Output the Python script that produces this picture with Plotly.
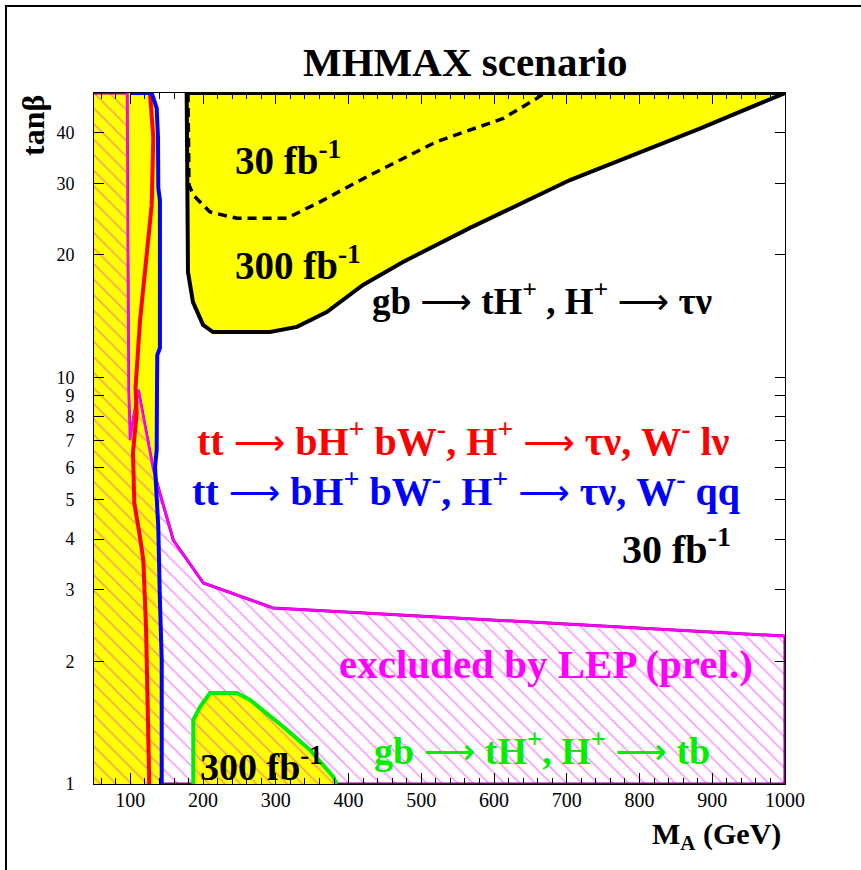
import math
import plotly.graph_objects as go

# ---------------- data (M_A in GeV, tan(beta)) ----------------
# LEP excluded region boundary (magenta curve)
lep_m = [95.4, 97.4, 99.5, 110.9, 131.5, 159.0, 200.3, 296.1, 1000]
lep_t = [50, 9.41, 7.01, 9.31, 5.92, 3.98, 3.12, 2.71, 2.31]

# tt -> bH+ bW-, W- -> qq (blue, 30 fb-1)
blue_m = [99.5, 129.3, 136.2, 138.0, 138.4, 140.6, 140.6, 137.0, 136.6, 136.2, 133.9, 138.4, 140.6, 143.1, 143.1]
blue_t = [50, 50, 45.9, 38.8, 29.2, 27.3, 11.8, 11.34, 9.41, 6.62, 6.02, 4.28, 2.835, 2.018, 1]

# tt -> bH+ bW-, W- -> l nu (red, 30 fb-1)
red_m = [127.0, 131.5, 129.3, 122.5, 113.2, 107.1, 108.7, 103.6, 105.4, 113.2, 117.8, 121.5, 123.6, 126.0]
red_t = [50, 38.8, 26.5, 19.98, 13.75, 9.41, 8.17, 6.51, 4.91, 4.05, 3.55, 2.43, 1.61, 1]

# yellow region of the tt channels that lies inside the LEP exclusion
overlap_m = [50, 50, 95.4, 97.4, 99.5, 110.9, 131.5, 134.7, 138.4, 140.6, 143.1, 143.1]
overlap_t = [1, 50, 50, 9.41, 7.01, 9.31, 5.92, 5.65, 4.28, 2.835, 2.018, 1]

# gb -> tH+, H+ -> tau nu, 300 fb-1 (solid black)
c300_m = [177.4, 179.2, 186.1, 199.9, 213.6, 292, 329, 370, 419.8, 474.8, 566.9, 704.4, 882, 1000]
c300_t = [50, 18.15, 15.3, 13.45, 12.92, 12.92, 13.3, 14.47, 16.87, 19.21, 23.3, 30.55, 40.8, 50]

# gb -> tH+, H+ -> tau nu, 30 fb-1 (dashed black)
c30_m = [179.2, 180.6, 186.5, 209.5, 246.2, 315, 360.7, 429.4, 521.1, 612.7, 658.6, 670, 179.2]
c30_t = [50, 29.7, 28.06, 25.5, 24.6, 24.6, 27.0, 31.4, 37.96, 43.3, 48.5, 50, 50]

# gb -> tH+, H+ -> tb, 300 fb-1 (green)
green_m = [186.5, 186.5, 195.7, 209.5, 246.2, 264.5, 310.2, 347.0, 379.0, 383.7]
green_t = [1, 1.437, 1.546, 1.674, 1.674, 1.609, 1.383, 1.212, 1.042, 1]

# axes
m_min, m_max = 50, 1000
t_min, t_max = 1, 50
ytick_vals = [1, 2, 3, 4, 5, 6, 7, 8, 9, 10, 20, 30, 40]
ytick_text = ["1", "2", "3", "4", "5", "6", "7", "8", "9", "10", "20", "30", "40"]

# ---------------- styles ----------------
YEL = "#ffff00"
MAG = "#ff00ff"
PURP = "#800080"
HATCH_W = dict(shape="\\", fgcolor=MAG, fgopacity=0.45, bgcolor="rgba(0,0,0,0)", size=11, solidity=0.14)
HATCH_Y = dict(shape="\\", fgcolor="#f59a66", fgopacity=1.0, bgcolor=YEL, size=11, solidity=0.14)
SERIF = "Liberation Serif"
ARROW = "<span style=\"font-family:'DejaVu Sans';font-weight:normal;font-size:36px\">⟶</span>"

fig = go.Figure()

def poly(x, y, **kw):
    fig.add_trace(go.Scatter(x=x, y=y, mode="lines", fill="toself", hoverinfo="skip",
                             showlegend=False, **kw))

def line(x, y, color, width, dash="solid"):
    fig.add_trace(go.Scatter(x=x, y=y, mode="lines", hoverinfo="skip", showlegend=False,
                             line=dict(color=color, width=width, dash=dash)))

# yellow region of tt channels
poly([m_min, m_min] + blue_m, [t_min, t_max] + blue_t, fillcolor=YEL, line=dict(width=0))
# top yellow region gb -> tH+ (tau nu)
poly(c300_m, c300_t, fillcolor=YEL, line=dict(width=0))
# LEP excluded hatched region
poly([m_min] + lep_m + [m_max, m_min], [t_max] + lep_t + [t_min, t_min],
     fillcolor="rgba(0,0,0,0)", fillpattern=HATCH_W, line=dict(color=PURP, width=3))
# overlap of yellow and LEP hatch
poly(overlap_m, overlap_t, fillcolor=YEL, fillpattern=HATCH_Y, line=dict(width=0))
# bottom green region (inside LEP hatch)
poly(green_m, green_t, fillcolor=YEL, fillpattern=HATCH_Y, line=dict(width=0))

# contour lines
line([m_min, lep_m[0]], [t_max, t_max], PURP, 3)
line(lep_m, lep_t, MAG, 2.5)
line(green_m, green_t, "#00ee00", 4)
line(red_m, red_t, "#ff0000", 4)
line(blue_m, blue_t, "#0000ff", 4)
line(c300_m + [c300_m[0]], c300_t + [c300_t[0]], "black", 4)
line(c30_m, c30_t, "black", 3.5, dash="9px,6px")

# ---------------- text ----------------
def ann(text, xp, yp, color="black", size=38, xanchor="left", **kw):
    fig.add_annotation(text=text, x=xp, y=yp, xref="paper", yref="paper",
                       xanchor=xanchor, yanchor="middle", showarrow=False,
                       font=dict(family=SERIF, size=size, color=color), **kw)

ann("<b>MHMAX scenario</b>", 0.537, 1.0449, size=41, xanchor="center")
ann("<b>tanβ</b>", -0.0883, 0.9537, size=32, xanchor="center", textangle=-90)
ann("<b>M<sub>A</sub> (GeV)</b>", 0.9971, -0.075, size=30, xanchor="right")

ann("<b>30 fb<sup>-1</sup></b>", 0.2012, 0.906, size=39)
ann("<b>300 fb<sup>-1</sup></b>", 0.2012, 0.754, size=39)
ann(f"<b>gb {ARROW} tH<sup>+</sup> , H<sup>+</sup> {ARROW} τν</b>", 0.3994, 0.703, size=37)
ann(f"<b>tt {ARROW} bH<sup>+</sup> bW<sup>-</sup>, H<sup>+</sup> {ARROW} τν, W<sup>-</sup> lν</b>", 0.1462, 0.500,
    color="#ff0000", size=40)
ann(f"<b>tt {ARROW} bH<sup>+</sup> bW<sup>-</sup>, H<sup>+</sup> {ARROW} τν, W<sup>-</sup> qq</b>", 0.139, 0.428,
    color="#0000ff", size=40)
ann("<b>30 fb<sup>-1</sup></b>", 0.7612, 0.344, size=40)
ann("<b>excluded by LEP (prel.)</b>", 0.3517, 0.1737, color=MAG, size=41)
ann(f"<b>gb {ARROW} tH<sup>+</sup>, H<sup>+</sup> {ARROW} tb</b>", 0.4023, 0.052, color="#00ee00", size=38)
ann("<b>300 fb<sup>-1</sup></b>", 0.1505, 0.0285, size=38)

# outer frame
fig.add_shape(type="rect", xref="paper", yref="paper",
              x0=(6 - 94) / 691, x1=(864 - 94) / 691, y0=(784 - 875) / 691, y1=(784 - 6) / 691,
              line=dict(color="black", width=2), fillcolor="rgba(0,0,0,0)", layer="above")

fig.update_layout(
    width=861, height=870,
    margin=dict(l=94, r=76, t=93, b=86, pad=0),
    paper_bgcolor="white", plot_bgcolor="white",
    showlegend=False,
    xaxis=dict(range=[m_min, m_max], tickmode="linear", tick0=0, dtick=100,
               ticks="inside", ticklen=11, tickwidth=1, tickcolor="black",
               minor=dict(dtick=20, tick0=0, ticks="inside", ticklen=6, tickcolor="black"),
               showline=True, linecolor="black", linewidth=1, mirror="ticks",
               showgrid=False, zeroline=False,
               tickfont=dict(family=SERIF, size=20, color="black"), ticklabelstandoff=-2),
    yaxis=dict(type="log", range=[0, math.log10(t_max)], tickmode="array",
               tickvals=ytick_vals, ticktext=ytick_text,
               ticks="inside", ticklen=10, tickwidth=1, tickcolor="black",
               showline=True, linecolor="black", linewidth=1, mirror="ticks",
               showgrid=False, zeroline=False,
               tickfont=dict(family=SERIF, size=18, color="black"), ticklabelstandoff=15),
)

fig.write_html("out.html")
